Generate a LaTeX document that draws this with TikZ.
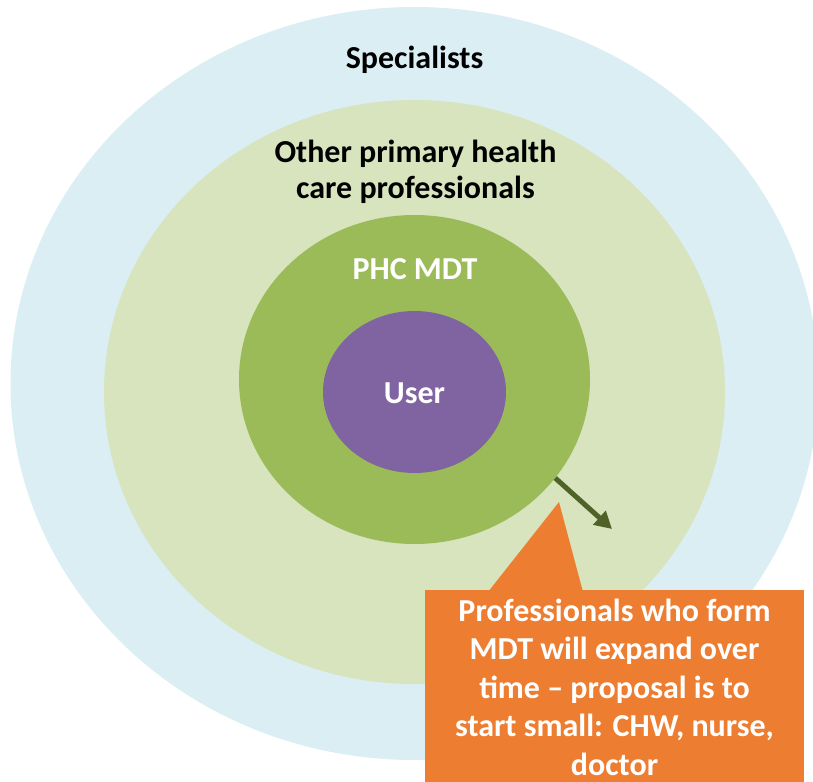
\documentclass[tikz,border=0pt]{standalone}
\usepackage{fontspec}
\setmainfont{Carlito}
\usetikzlibrary{shapes.geometric,arrows.meta}
\definecolor{ringblue}{HTML}{DAEEF3}
\definecolor{ringpale}{HTML}{D7E4BD}
\definecolor{ringgreen}{HTML}{9BBB59}
\definecolor{userpurple}{HTML}{8064A2}
\definecolor{calloutorange}{HTML}{ED7D31}
\definecolor{arrowolive}{HTML}{4F6228}
\tikzset{
  ring/.style={ellipse, inner sep=0pt, draw=none},
  label/.style={font=\fontsize{32}{36}\selectfont\bfseries, inner sep=0pt, anchor=base, align=center},
}
\begin{document}
\begin{tikzpicture}[x=1pt,y=-1pt]
\useasboundingbox (0,0) rectangle (813,781);
\clip (0,0) rectangle (813,781);
% concentric circles of care
\node[ring, fill=ringblue, minimum width=808pt, minimum height=753pt] (spec) at (414.5,383.5) {};
\node[ring, fill=ringpale, minimum width=621pt, minimum height=584pt] (other) at (414.5,392) {};
\node[ring, fill=ringgreen, minimum width=351pt, minimum height=329pt] (phc) at (414.5,379.5) {};
\node[ring, fill=userpurple, minimum width=183pt, minimum height=162pt] (user) at (414.5,392) {};
% ring labels (a multi-line label sits on the baseline of its last line)
\node[label] (speclabel) at (414.5,69) {Specialists};
\node[label] (otherlabel) at (415.5,198) {Other primary health\\care professionals};
\node[label, text=white] (phclabel) at (415,279) {PHC MDT};
\node[label, text=white] (userlabel) at (414.5,403) {User};
% expansion arrow
\coordinate (arrowtip) at (612,529);
\draw[arrowolive, line width=5pt, -{Triangle[length=17pt,width=18pt]}] (phc.-35.6) -- (arrowtip);
% callout with pointer
\coordinate (pointtip) at (559,502);
\fill[calloutorange] (488,592) -- (pointtip) -- (583,592) -- cycle;
\node[fill=calloutorange, minimum width=379pt, minimum height=220pt, anchor=north west, inner sep=0pt] (callout) at (425,590) {};
\node[label, text=white, font=\fontsize{32}{38.5}\selectfont\bfseries] (callouttext) at (614.5,775)
  {Professionals who form\\MDT will expand over\\time -- proposal is to\\start small: CHW, nurse,\\doctor};
\end{tikzpicture}
\end{document}
